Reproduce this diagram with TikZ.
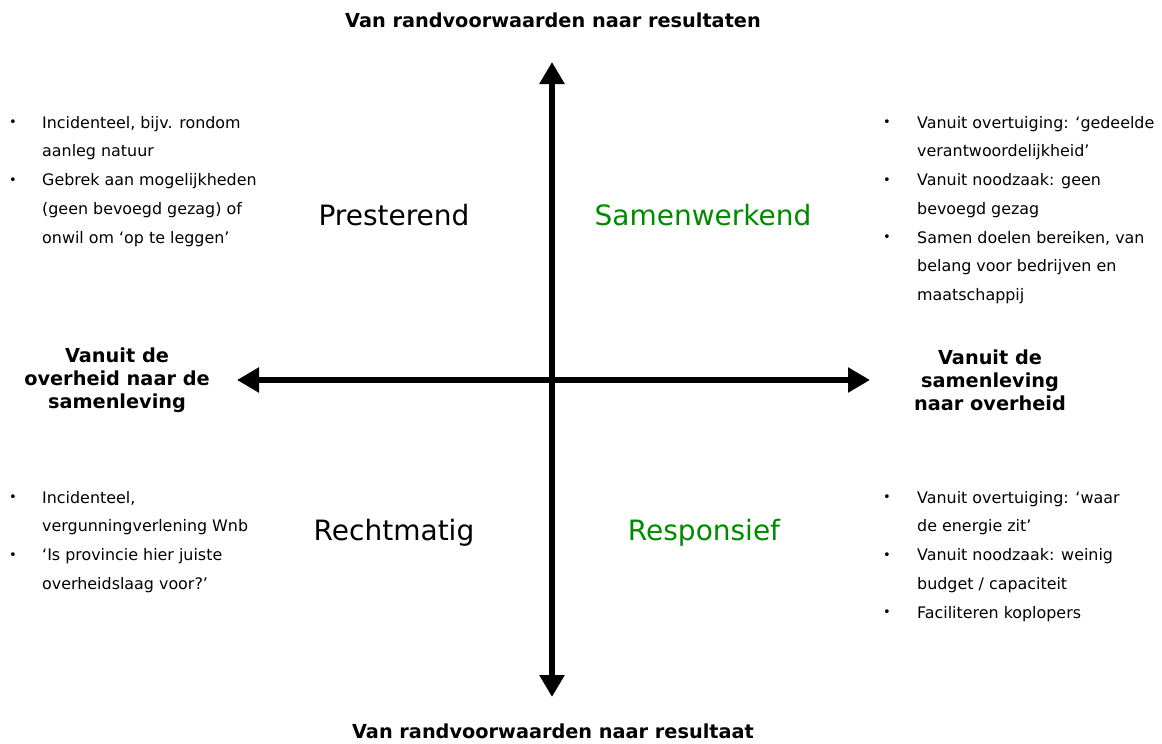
\documentclass[tikz,border=0pt]{standalone}
\usepackage{fontspec}
\setmainfont{DejaVu Sans}
\usetikzlibrary{arrows.meta}
\definecolor{quadgreen}{RGB}{0,138,0}
\tikzset{x=1pt,y=-1pt,
    axis/.style={line width=6pt,
        {Triangle[width=24pt,length=22pt]}-{Triangle[width=24pt,length=22pt]}},
    heading/.style={font=\bfseries\fontsize{19.3}{22.8}\selectfont,align=center},
    quadrant/.style={font=\fontsize{28}{32}\selectfont},
    bullets/.style={font=\fontsize{15.9}{28.7}\selectfont,inner sep=0pt,anchor=north west}}
\newcommand{\bul}{\raisebox{1.5pt}{\fontsize{13}{13}\selectfont\textbullet}}

\begin{document}
\begin{tikzpicture}
\useasboundingbox (0,0) rectangle (1162,744);
% axes
\coordinate (top) at (552,62);
\coordinate (bottom) at (552,697);
\coordinate (left) at (237,380);
\coordinate (right) at (870,380);
\draw[axis] (bottom) -- (top);
\draw[axis] (left) -- (right);
% axis labels
\node[heading] (north) at (553,20) {Van randvoorwaarden naar resultaten};
\node[heading] (south) at (553,731) {Van randvoorwaarden naar resultaat};
\node[heading] (west) at (117,380) {Vanuit de\\overheid naar de\\samenleving};
\node[heading] (east) at (990,380) {Vanuit de\\samenleving\\naar overheid};
% quadrants
\node[quadrant] (prest) at (394,215) {Presterend};
\node[quadrant,text=quadgreen] (samen) at (703,215) {Samenwerkend};
\node[quadrant] (recht) at (394,533) {Rechtmatig};
\node[quadrant,text=quadgreen] (resp) at (704,533) {Responsief};
% bullet lists
\node[bullets] (prestlist) at (9,108) {\begin{tabular}{@{}p{33pt}@{}l@{}}
\bul & Incidenteel, bijv. rondom\\
     & aanleg natuur\\
\bul & Gebrek aan mogelijkheden\\
     & (geen bevoegd gezag) of\\
     & onwil om ‘op te leggen’
\end{tabular}};
\node[bullets] (samenlist) at (883,108) {\begin{tabular}{@{}p{34pt}@{}l@{}}
\bul & Vanuit overtuiging: ‘gedeelde\\
     & verantwoordelijkheid’\\
\bul & Vanuit noodzaak: geen\\
     & bevoegd gezag\\
\bul & Samen doelen bereiken, van\\
     & belang voor bedrijven en\\
     & maatschappij
\end{tabular}};
\node[bullets] (rechtlist) at (9,483) {\begin{tabular}{@{}p{33pt}@{}l@{}}
\bul & Incidenteel,\\
     & vergunningverlening Wnb\\
\bul & ‘Is provincie hier juiste\\
     & overheidslaag voor?’
\end{tabular}};
\node[bullets] (resplist) at (883,483) {\begin{tabular}{@{}p{34pt}@{}l@{}}
\bul & Vanuit overtuiging: ‘waar\\
     & de energie zit’\\
\bul & Vanuit noodzaak: weinig\\
     & budget / capaciteit\\
\bul & Faciliteren koplopers
\end{tabular}};
\end{tikzpicture}
\end{document}
